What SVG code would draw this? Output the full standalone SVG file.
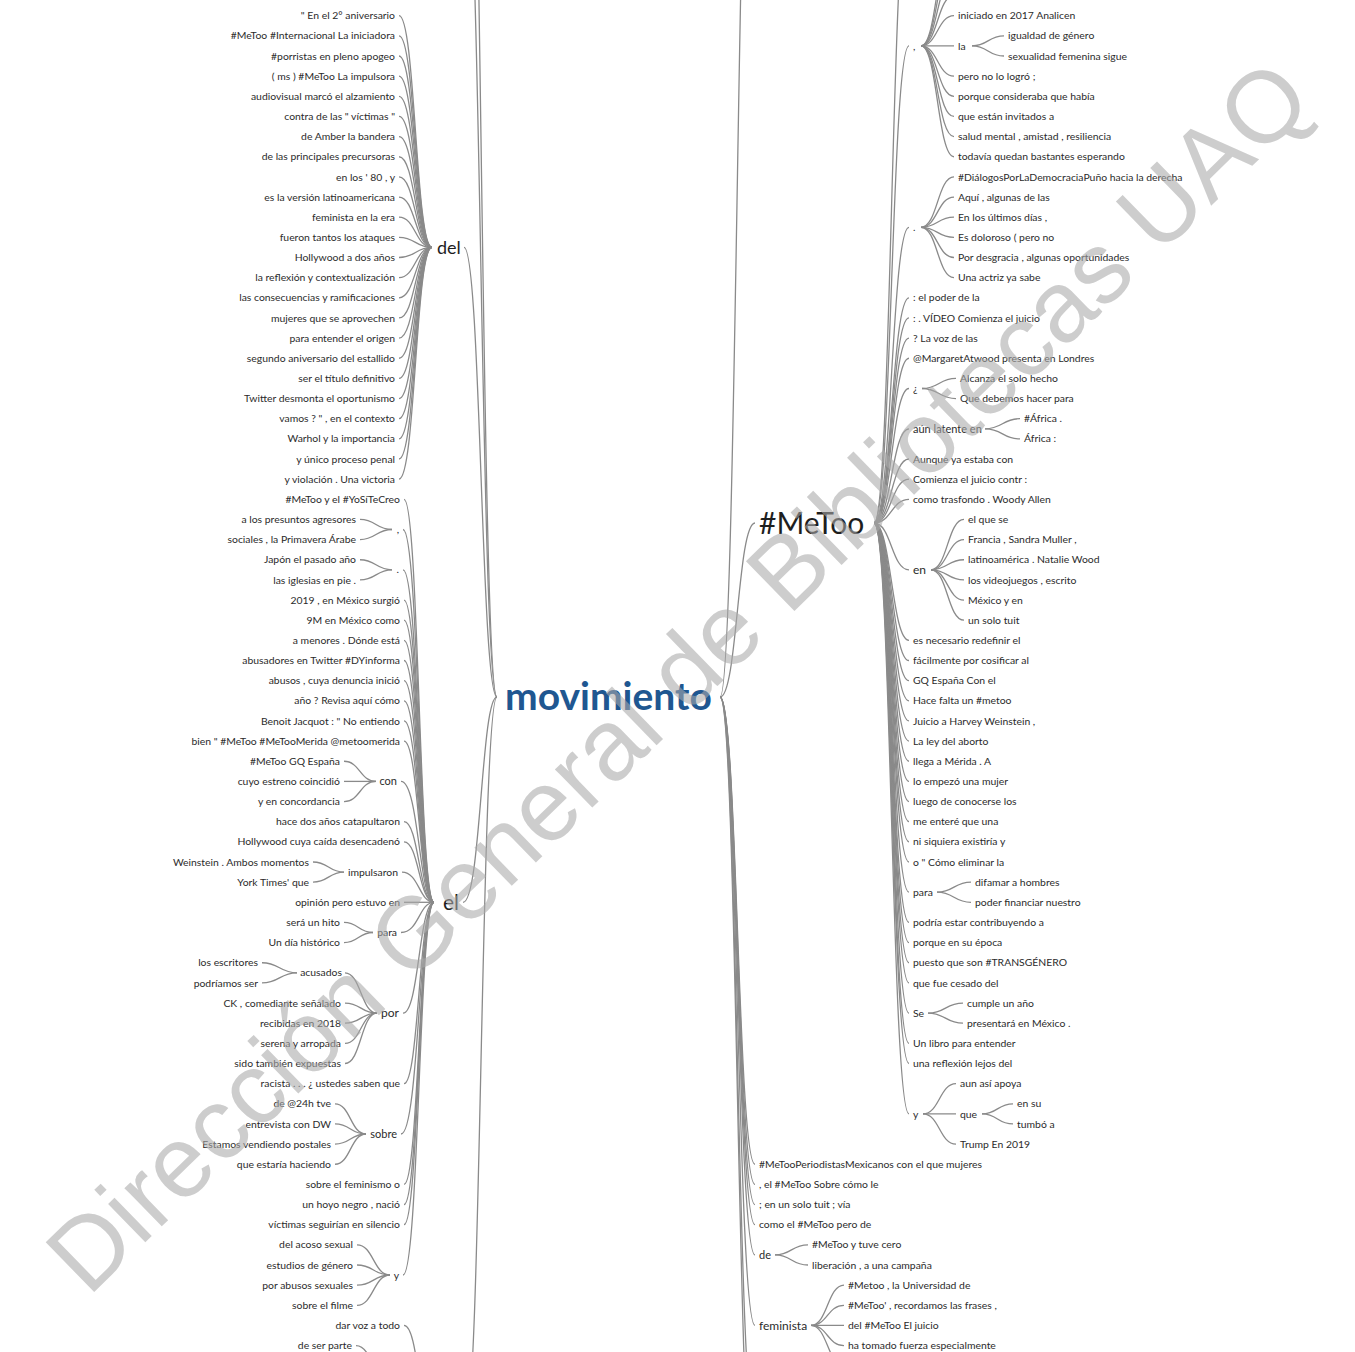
<svg xmlns="http://www.w3.org/2000/svg" width="1355" height="1352" viewBox="0 0 1355 1352">
<style>
.t{font-family:Lato,"Open Sans","Liberation Sans",sans-serif;font-size:10.4px;fill:#2b2b2b}
.e{text-anchor:end}
.n{font-family:Lato,"Open Sans","Liberation Sans",sans-serif;fill:#1e1e1e}
.c path{fill:none;stroke:#8a8a8a;stroke-width:1.3}
.wm{font-family:"Liberation Sans",Arial,sans-serif;font-size:101px;fill:#a9a9a9;fill-opacity:.58}
</style>
<rect width="1355" height="1352" fill="#fff"/>
<g id="connectors" class="c">
<path d="M497 697C481 697 481 -420 465 -420"/>
<path d="M497 697C481 697 481 -150 465 -150"/>
<path d="M497 697C481 697 481 247.4 464 247.4"/>
<path d="M497 697C481 697 481 902.3 463 902.3"/>
<path d="M497 697C481 697 481 1426 465 1426"/>
<path d="M399 15.7C415.5 15.7 415.5 247.4 432 247.4"/>
<path d="M399 35.85C415.5 35.85 415.5 247.4 432 247.4"/>
<path d="M399 56C415.5 56 415.5 247.4 432 247.4"/>
<path d="M399 76.15C415.5 76.15 415.5 247.4 432 247.4"/>
<path d="M399 96.3C415.5 96.3 415.5 247.4 432 247.4"/>
<path d="M399 116.45C415.5 116.45 415.5 247.4 432 247.4"/>
<path d="M399 136.6C415.5 136.6 415.5 247.4 432 247.4"/>
<path d="M399 156.75C415.5 156.75 415.5 247.4 432 247.4"/>
<path d="M399 176.9C415.5 176.9 415.5 247.4 432 247.4"/>
<path d="M399 197.05C415.5 197.05 415.5 247.4 432 247.4"/>
<path d="M399 217.2C415.5 217.2 415.5 247.4 432 247.4"/>
<path d="M399 237.35C415.5 237.35 415.5 247.4 432 247.4"/>
<path d="M399 257.5C415.5 257.5 415.5 247.4 432 247.4"/>
<path d="M399 277.65C415.5 277.65 415.5 247.4 432 247.4"/>
<path d="M399 297.8C415.5 297.8 415.5 247.4 432 247.4"/>
<path d="M399 317.95C415.5 317.95 415.5 247.4 432 247.4"/>
<path d="M399 338.1C415.5 338.1 415.5 247.4 432 247.4"/>
<path d="M399 358.25C415.5 358.25 415.5 247.4 432 247.4"/>
<path d="M399 378.4C415.5 378.4 415.5 247.4 432 247.4"/>
<path d="M399 398.55C415.5 398.55 415.5 247.4 432 247.4"/>
<path d="M399 418.7C415.5 418.7 415.5 247.4 432 247.4"/>
<path d="M399 438.85C415.5 438.85 415.5 247.4 432 247.4"/>
<path d="M399 459C415.5 459 415.5 247.4 432 247.4"/>
<path d="M399 479.15C415.5 479.15 415.5 247.4 432 247.4"/>
<path d="M404 499.3C419 499.3 419 902.3 434 902.3"/>
<path d="M403 529.5C419 529.5 419 902.3 434 902.3"/>
<path d="M403 569.8C419 569.8 419 902.3 434 902.3"/>
<path d="M404 600.05C419 600.05 419 902.3 434 902.3"/>
<path d="M404 620.2C419 620.2 419 902.3 434 902.3"/>
<path d="M404 640.35C419 640.35 419 902.3 434 902.3"/>
<path d="M404 660.5C419 660.5 419 902.3 434 902.3"/>
<path d="M404 680.65C419 680.65 419 902.3 434 902.3"/>
<path d="M404 700.8C419 700.8 419 902.3 434 902.3"/>
<path d="M404 720.95C419 720.95 419 902.3 434 902.3"/>
<path d="M404 741.1C419 741.1 419 902.3 434 902.3"/>
<path d="M401 781.4C419 781.4 419 902.3 434 902.3"/>
<path d="M404 821.7C419 821.7 419 902.3 434 902.3"/>
<path d="M404 841.85C419 841.85 419 902.3 434 902.3"/>
<path d="M402 872.1C419 872.1 419 902.3 434 902.3"/>
<path d="M404 902.3C419 902.3 419 902.3 434 902.3"/>
<path d="M401 932.5C419 932.5 419 902.3 434 902.3"/>
<path d="M403 1013.1C419 1013.1 419 902.3 434 902.3"/>
<path d="M404 1083.65C419 1083.65 419 902.3 434 902.3"/>
<path d="M401 1134C419 1134 419 902.3 434 902.3"/>
<path d="M404 1184.4C419 1184.4 419 902.3 434 902.3"/>
<path d="M404 1204.55C419 1204.55 419 902.3 434 902.3"/>
<path d="M404 1224.7C419 1224.7 419 902.3 434 902.3"/>
<path d="M403 1275C419 1275 419 902.3 434 902.3"/>
<path d="M360 519.45C376 519.45 376 529.5 392 529.5"/>
<path d="M360 539.6C376 539.6 376 529.5 392 529.5"/>
<path d="M360 559.75C376 559.75 376 569.8 392 569.8"/>
<path d="M360 579.9C376 579.9 376 569.8 392 569.8"/>
<path d="M344 761.25C360 761.25 360 781.4 376 781.4"/>
<path d="M344 781.4C360 781.4 360 781.4 376 781.4"/>
<path d="M344 801.55C360 801.55 360 781.4 376 781.4"/>
<path d="M313 862C328.5 862 328.5 872.1 344 872.1"/>
<path d="M313 882.15C328.5 882.15 328.5 872.1 344 872.1"/>
<path d="M344 922.45C358.5 922.45 358.5 932.5 373 932.5"/>
<path d="M344 942.6C358.5 942.6 358.5 932.5 373 932.5"/>
<path d="M345 972.8C361 972.8 361 1013.1 377 1013.1"/>
<path d="M345 1003.05C361 1003.05 361 1013.1 377 1013.1"/>
<path d="M345 1023.2C361 1023.2 361 1013.1 377 1013.1"/>
<path d="M345 1043.35C361 1043.35 361 1013.1 377 1013.1"/>
<path d="M345 1063.5C361 1063.5 361 1013.1 377 1013.1"/>
<path d="M262 962.75C279.5 962.75 279.5 972.8 297 972.8"/>
<path d="M262 982.9C279.5 982.9 279.5 972.8 297 972.8"/>
<path d="M335 1103.8C350.5 1103.8 350.5 1134 366 1134"/>
<path d="M335 1123.95C350.5 1123.95 350.5 1134 366 1134"/>
<path d="M335 1144.1C350.5 1144.1 350.5 1134 366 1134"/>
<path d="M335 1164.25C350.5 1164.25 350.5 1134 366 1134"/>
<path d="M357 1244.85C373.5 1244.85 373.5 1275 390 1275"/>
<path d="M357 1265C373.5 1265 373.5 1275 390 1275"/>
<path d="M357 1285.15C373.5 1285.15 373.5 1275 390 1275"/>
<path d="M357 1305.3C373.5 1305.3 373.5 1275 390 1275"/>
<path d="M404 1325.45C419 1325.45 419 1426 434 1426"/>
<path d="M356 1345.6C374 1345.6 374 1390 392 1390"/>
<path d="M720 697C737.5 697 737.5 -350 755 -350"/>
<path d="M720 697C737.5 697 737.5 523 755 523"/>
<path d="M720 697C737.5 697 737.5 1164.25 755 1164.25"/>
<path d="M720 697C737.5 697 737.5 1184.4 755 1184.4"/>
<path d="M720 697C737.5 697 737.5 1204.55 755 1204.55"/>
<path d="M720 697C737.5 697 737.5 1224.7 755 1224.7"/>
<path d="M720 697C737.5 697 737.5 1254.9 755 1254.9"/>
<path d="M720 697C737.5 697 737.5 1325.45 755 1325.45"/>
<path d="M720 697C737.5 697 737.5 1430 755 1430"/>
<path d="M720 697C737.5 697 737.5 1500 755 1500"/>
<path d="M874 523C891.5 523 891.5 -105 909 -105"/>
<path d="M874 523C891.5 523 891.5 45.9 909 45.9"/>
<path d="M874 523C891.5 523 891.5 227.3 909 227.3"/>
<path d="M874 523C891.5 523 891.5 297.8 909 297.8"/>
<path d="M874 523C891.5 523 891.5 317.95 909 317.95"/>
<path d="M874 523C891.5 523 891.5 338.1 909 338.1"/>
<path d="M874 523C891.5 523 891.5 358.25 909 358.25"/>
<path d="M874 523C891.5 523 891.5 388.5 909 388.5"/>
<path d="M874 523C891.5 523 891.5 428.8 909 428.8"/>
<path d="M874 523C891.5 523 891.5 459 909 459"/>
<path d="M874 523C891.5 523 891.5 479.15 909 479.15"/>
<path d="M874 523C891.5 523 891.5 499.3 909 499.3"/>
<path d="M874 523C891.5 523 891.5 569.8 909 569.8"/>
<path d="M874 523C891.5 523 891.5 640.35 909 640.35"/>
<path d="M874 523C891.5 523 891.5 660.5 909 660.5"/>
<path d="M874 523C891.5 523 891.5 680.65 909 680.65"/>
<path d="M874 523C891.5 523 891.5 700.8 909 700.8"/>
<path d="M874 523C891.5 523 891.5 720.95 909 720.95"/>
<path d="M874 523C891.5 523 891.5 741.1 909 741.1"/>
<path d="M874 523C891.5 523 891.5 761.25 909 761.25"/>
<path d="M874 523C891.5 523 891.5 781.4 909 781.4"/>
<path d="M874 523C891.5 523 891.5 801.55 909 801.55"/>
<path d="M874 523C891.5 523 891.5 821.7 909 821.7"/>
<path d="M874 523C891.5 523 891.5 841.85 909 841.85"/>
<path d="M874 523C891.5 523 891.5 862 909 862"/>
<path d="M874 523C891.5 523 891.5 892.2 909 892.2"/>
<path d="M874 523C891.5 523 891.5 922.45 909 922.45"/>
<path d="M874 523C891.5 523 891.5 942.6 909 942.6"/>
<path d="M874 523C891.5 523 891.5 962.75 909 962.75"/>
<path d="M874 523C891.5 523 891.5 982.9 909 982.9"/>
<path d="M874 523C891.5 523 891.5 1013.1 909 1013.1"/>
<path d="M874 523C891.5 523 891.5 1043.35 909 1043.35"/>
<path d="M874 523C891.5 523 891.5 1063.5 909 1063.5"/>
<path d="M874 523C891.5 523 891.5 1113.9 909 1113.9"/>
<path d="M921 45.9C937.5 45.9 937.5 -64.9 954 -64.9"/>
<path d="M921 45.9C937.5 45.9 937.5 -44.75 954 -44.75"/>
<path d="M921 45.9C937.5 45.9 937.5 -24.6 954 -24.6"/>
<path d="M921 45.9C937.5 45.9 937.5 -4.45 954 -4.45"/>
<path d="M921 45.9C937.5 45.9 937.5 15.7 954 15.7"/>
<path d="M921 45.9C937.5 45.9 937.5 45.9 954 45.9"/>
<path d="M921 45.9C937.5 45.9 937.5 76.15 954 76.15"/>
<path d="M921 45.9C937.5 45.9 937.5 96.3 954 96.3"/>
<path d="M921 45.9C937.5 45.9 937.5 116.45 954 116.45"/>
<path d="M921 45.9C937.5 45.9 937.5 136.6 954 136.6"/>
<path d="M921 45.9C937.5 45.9 937.5 156.75 954 156.75"/>
<path d="M972 45.9C988 45.9 988 35.85 1004 35.85"/>
<path d="M972 45.9C988 45.9 988 56 1004 56"/>
<path d="M921 227.3C937.5 227.3 937.5 176.9 954 176.9"/>
<path d="M921 227.3C937.5 227.3 937.5 197.05 954 197.05"/>
<path d="M921 227.3C937.5 227.3 937.5 217.2 954 217.2"/>
<path d="M921 227.3C937.5 227.3 937.5 237.35 954 237.35"/>
<path d="M921 227.3C937.5 227.3 937.5 257.5 954 257.5"/>
<path d="M921 227.3C937.5 227.3 937.5 277.65 954 277.65"/>
<path d="M922 388.5C939 388.5 939 378.4 956 378.4"/>
<path d="M922 388.5C939 388.5 939 398.55 956 398.55"/>
<path d="M985 428.8C1002.5 428.8 1002.5 418.7 1020 418.7"/>
<path d="M985 428.8C1002.5 428.8 1002.5 438.85 1020 438.85"/>
<path d="M931 569.8C947.5 569.8 947.5 519.45 964 519.45"/>
<path d="M931 569.8C947.5 569.8 947.5 539.6 964 539.6"/>
<path d="M931 569.8C947.5 569.8 947.5 559.75 964 559.75"/>
<path d="M931 569.8C947.5 569.8 947.5 579.9 964 579.9"/>
<path d="M931 569.8C947.5 569.8 947.5 600.05 964 600.05"/>
<path d="M931 569.8C947.5 569.8 947.5 620.2 964 620.2"/>
<path d="M937 892.2C954 892.2 954 882.15 971 882.15"/>
<path d="M937 892.2C954 892.2 954 902.3 971 902.3"/>
<path d="M928 1013.1C945.5 1013.1 945.5 1003.05 963 1003.05"/>
<path d="M928 1013.1C945.5 1013.1 945.5 1023.2 963 1023.2"/>
<path d="M923 1113.9C939.5 1113.9 939.5 1083.65 956 1083.65"/>
<path d="M923 1113.9C939.5 1113.9 939.5 1113.9 956 1113.9"/>
<path d="M923 1113.9C939.5 1113.9 939.5 1144.1 956 1144.1"/>
<path d="M982 1113.9C997.5 1113.9 997.5 1103.8 1013 1103.8"/>
<path d="M982 1113.9C997.5 1113.9 997.5 1123.95 1013 1123.95"/>
<path d="M775 1254.9C791.5 1254.9 791.5 1244.85 808 1244.85"/>
<path d="M775 1254.9C791.5 1254.9 791.5 1265 808 1265"/>
<path d="M811 1325.45C827.5 1325.45 827.5 1285.15 844 1285.15"/>
<path d="M811 1325.45C827.5 1325.45 827.5 1305.3 844 1305.3"/>
<path d="M811 1325.45C827.5 1325.45 827.5 1325.45 844 1325.45"/>
<path d="M811 1325.45C827.5 1325.45 827.5 1345.6 844 1345.6"/>
<path d="M811 1325.45C827.5 1325.45 827.5 1365.75 844 1365.75"/>
</g>
<g id="n-movimiento"><text class="n" x="505" y="710" style="font-size:39px;font-weight:700;fill:#1f5791">movimiento</text></g>
<g id="n-del"><text class="n" x="437" y="253.7" style="font-size:18px">del</text></g>
<g id="n-el"><text class="n" x="443" y="909.6" style="font-size:21px">el</text></g>
<g id="n-metoo"><text class="n" x="759" y="533.5" style="font-size:30px">#MeToo</text></g>
<g id="del-leaves" class="t e">
<g id="d0"><text x="395" y="19.3">" En el 2° aniversario</text></g>
<g id="d1"><text x="395" y="39.45">#MeToo #Internacional La iniciadora</text></g>
<g id="d2"><text x="395" y="59.6">#porristas en pleno apogeo</text></g>
<g id="d3"><text x="395" y="79.75">( ms ) #MeToo La impulsora</text></g>
<g id="d4"><text x="395" y="99.9">audiovisual marcó el alzamiento</text></g>
<g id="d5"><text x="395" y="120.05">contra de las " víctimas "</text></g>
<g id="d6"><text x="395" y="140.2">de Amber la bandera</text></g>
<g id="d7"><text x="395" y="160.35">de las principales precursoras</text></g>
<g id="d8"><text x="395" y="180.5">en los ' 80 , y</text></g>
<g id="d9"><text x="395" y="200.65">es la versión latinoamericana</text></g>
<g id="d10"><text x="395" y="220.8">feminista en la era</text></g>
<g id="d11"><text x="395" y="240.95">fueron tantos los ataques</text></g>
<g id="d12"><text x="395" y="261.1">Hollywood a dos años</text></g>
<g id="d13"><text x="395" y="281.25">la reflexión y contextualización</text></g>
<g id="d14"><text x="395" y="301.4">las consecuencias y ramificaciones</text></g>
<g id="d15"><text x="395" y="321.55">mujeres que se aprovechen</text></g>
<g id="d16"><text x="395" y="341.7">para entender el origen</text></g>
<g id="d17"><text x="395" y="361.85">segundo aniversario del estallido</text></g>
<g id="d18"><text x="395" y="382">ser el título definitivo</text></g>
<g id="d19"><text x="395" y="402.15">Twitter desmonta el oportunismo</text></g>
<g id="d20"><text x="395" y="422.3">vamos ? " , en el contexto</text></g>
<g id="d21"><text x="395" y="442.45">Warhol y la importancia</text></g>
<g id="d22"><text x="395" y="462.6">y único proceso penal</text></g>
<g id="d23"><text x="395" y="482.75">y violación . Una victoria</text></g>
</g>
<g id="el-branch" class="t e">
<g id="e24"><text x="400" y="502.9">#MeToo y el #YoSíTeCreo</text></g>
<g id="n-comma-l"><text x="399" y="533.1">,</text></g>
<g id="e25"><text x="356" y="523.05">a los presuntos agresores</text></g>
<g id="e26"><text x="356" y="543.2">sociales , la Primavera Árabe</text></g>
<g id="n-dot-l"><text x="399" y="573.4">.</text></g>
<g id="e27"><text x="356" y="563.35">Japón el pasado año</text></g>
<g id="e28"><text x="356" y="583.5">las iglesias en pie .</text></g>
<g id="e29"><text x="400" y="603.65">2019 , en México surgió</text></g>
<g id="e30"><text x="400" y="623.8">9M en México como</text></g>
<g id="e31"><text x="400" y="643.95">a menores . Dónde está</text></g>
<g id="e32"><text x="400" y="664.1">abusadores en Twitter #DYinforma</text></g>
<g id="e33"><text x="400" y="684.25">abusos , cuya denuncia inició</text></g>
<g id="e34"><text x="400" y="704.4">año ? Revisa aquí cómo</text></g>
<g id="e35"><text x="400" y="724.55">Benoit Jacquot : " No entiendo</text></g>
<g id="e36"><text x="400" y="744.7">bien " #MeToo #MeTooMerida @metoomerida</text></g>
<g id="n-con"><text x="397" y="785.25" style="font-size:11px">con</text></g>
<g id="e37"><text x="340" y="764.85">#MeToo GQ España</text></g>
<g id="e38"><text x="340" y="785">cuyo estreno coincidió</text></g>
<g id="e39"><text x="340" y="805.15">y en concordancia</text></g>
<g id="e40"><text x="400" y="825.3">hace dos años catapultaron</text></g>
<g id="e41"><text x="400" y="845.45">Hollywood cuya caída desencadenó</text></g>
<g id="n-impulsaron"><text x="398" y="875.7">impulsaron</text></g>
<g id="e42"><text x="309" y="865.6">Weinstein . Ambos momentos</text></g>
<g id="e43"><text x="309" y="885.75">York Times' que</text></g>
<g id="e44"><text x="400" y="905.9">opinión pero estuvo en</text></g>
<g id="n-para-l"><text x="397" y="936.1">para</text></g>
<g id="e45"><text x="340" y="926.05">será un hito</text></g>
<g id="e46"><text x="340" y="946.2">Un día histórico</text></g>
<g id="n-por"><text x="399" y="1017.3" style="font-size:12px">por</text></g>
<g id="n-acusados"><text x="342" y="976.4">acusados</text></g>
<g id="e47"><text x="258" y="966.35">los escritores</text></g>
<g id="e48"><text x="258" y="986.5">podríamos ser</text></g>
<g id="e49"><text x="341" y="1006.65">CK , comediante señalado</text></g>
<g id="e50"><text x="341" y="1026.8">recibidas en 2018</text></g>
<g id="e51"><text x="341" y="1046.95">serena y arropada</text></g>
<g id="e52"><text x="341" y="1067.1">sido también expuestas</text></g>
<g id="e53"><text x="400" y="1087.25">racista . . . ¿ ustedes saben que</text></g>
<g id="n-sobre"><text x="397" y="1137.85" style="font-size:11px">sobre</text></g>
<g id="e54"><text x="331" y="1107.4">de @24h tve</text></g>
<g id="e55"><text x="331" y="1127.55">entrevista con DW</text></g>
<g id="e56"><text x="331" y="1147.7">Estamos vendiendo postales</text></g>
<g id="e57"><text x="331" y="1167.85">que estaría haciendo</text></g>
<g id="e58"><text x="400" y="1188">sobre el feminismo o</text></g>
<g id="e59"><text x="400" y="1208.15">un hoyo negro , nació</text></g>
<g id="e60"><text x="400" y="1228.3">víctimas seguirían en silencio</text></g>
<g id="n-y-l"><text x="399" y="1278.6">y</text></g>
<g id="e61"><text x="353" y="1248.45">del acoso sexual</text></g>
<g id="e62"><text x="353" y="1268.6">estudios de género</text></g>
<g id="e63"><text x="353" y="1288.75">por abusos sexuales</text></g>
<g id="e64"><text x="353" y="1308.9">sobre el filme</text></g>
<g id="e65"><text x="400" y="1329.05">dar voz a todo</text></g>
<g id="e66"><text x="352" y="1349.2">de ser parte</text></g>
</g>
<g id="metoo-branch" class="t">
<g id="n-comma-r"><text x="913" y="49.5">,</text></g>
<g id="r0"><text x="958" y="19.3">iniciado en 2017 Analicen</text></g>
<g id="n-la"><text x="958" y="49.5">la</text></g>
<g id="r1"><text x="1008" y="39.45">igualdad de género</text></g>
<g id="r2"><text x="1008" y="59.6">sexualidad femenina sigue</text></g>
<g id="r3"><text x="958" y="79.75">pero no lo logró ;</text></g>
<g id="r4"><text x="958" y="99.9">porque consideraba que había</text></g>
<g id="r5"><text x="958" y="120.05">que están invitados a</text></g>
<g id="r6"><text x="958" y="140.2">salud mental , amistad , resiliencia</text></g>
<g id="r7"><text x="958" y="160.35">todavía quedan bastantes esperando</text></g>
<g id="n-dot-r"><text x="913" y="230.9">.</text></g>
<g id="r8"><text x="958" y="180.5">#DiálogosPorLaDemocraciaPuño hacia la derecha</text></g>
<g id="r9"><text x="958" y="200.65">Aquí , algunas de las</text></g>
<g id="r10"><text x="958" y="220.8">En los últimos días ,</text></g>
<g id="r11"><text x="958" y="240.95">Es doloroso ( pero no</text></g>
<g id="r12"><text x="958" y="261.1">Por desgracia , algunas oportunidades</text></g>
<g id="r13"><text x="958" y="281.25">Una actriz ya sabe</text></g>
<g id="r14"><text x="913" y="301.4">: el poder de la</text></g>
<g id="r15"><text x="913" y="321.55">: . VÍDEO Comienza el juicio</text></g>
<g id="r16"><text x="913" y="341.7">? La voz de las</text></g>
<g id="r17"><text x="913" y="361.85">@MargaretAtwood presenta en Londres</text></g>
<g id="n-iq"><text x="913" y="392.1">¿</text></g>
<g id="r18"><text x="960" y="382">Alcanza el solo hecho</text></g>
<g id="r19"><text x="960" y="402.15">Que debemos hacer para</text></g>
<g id="n-aun"><text x="913" y="432.65" style="font-size:11px">aún latente en</text></g>
<g id="r20"><text x="1024" y="422.3">#África .</text></g>
<g id="r21"><text x="1024" y="442.45">África :</text></g>
<g id="r22"><text x="913" y="462.6">Aunque ya estaba con</text></g>
<g id="r23"><text x="913" y="482.75">Comienza el juicio contr :</text></g>
<g id="r24"><text x="913" y="502.9">como trasfondo . Woody Allen</text></g>
<g id="n-en"><text x="913" y="574" style="font-size:12px">en</text></g>
<g id="r25"><text x="968" y="523.05">el que se</text></g>
<g id="r26"><text x="968" y="543.2">Francia , Sandra Muller ,</text></g>
<g id="r27"><text x="968" y="563.35">latinoamérica . Natalie Wood</text></g>
<g id="r28"><text x="968" y="583.5">los videojuegos , escrito</text></g>
<g id="r29"><text x="968" y="603.65">México y en</text></g>
<g id="r30"><text x="968" y="623.8">un solo tuit</text></g>
<g id="r31"><text x="913" y="643.95">es necesario redefinir el</text></g>
<g id="r32"><text x="913" y="664.1">fácilmente por cosificar al</text></g>
<g id="r33"><text x="913" y="684.25">GQ España Con el</text></g>
<g id="r34"><text x="913" y="704.4">Hace falta un #metoo</text></g>
<g id="r35"><text x="913" y="724.55">Juicio a Harvey Weinstein ,</text></g>
<g id="r36"><text x="913" y="744.7">La ley del aborto</text></g>
<g id="r37"><text x="913" y="764.85">llega a Mérida . A</text></g>
<g id="r38"><text x="913" y="785">lo empezó una mujer</text></g>
<g id="r39"><text x="913" y="805.15">luego de conocerse los</text></g>
<g id="r40"><text x="913" y="825.3">me enteré que una</text></g>
<g id="r41"><text x="913" y="845.45">ni siquiera existiría y</text></g>
<g id="r42"><text x="913" y="865.6">o " Cómo eliminar la</text></g>
<g id="n-para-r"><text x="913" y="895.8">para</text></g>
<g id="r43"><text x="975" y="885.75">difamar a hombres</text></g>
<g id="r44"><text x="975" y="905.9">poder financiar nuestro</text></g>
<g id="r45"><text x="913" y="926.05">podría estar contribuyendo a</text></g>
<g id="r46"><text x="913" y="946.2">porque en su época</text></g>
<g id="r47"><text x="913" y="966.35">puesto que son #TRANSGÉNERO</text></g>
<g id="r48"><text x="913" y="986.5">que fue cesado del</text></g>
<g id="n-se"><text x="913" y="1016.7">Se</text></g>
<g id="r49"><text x="967" y="1006.65">cumple un año</text></g>
<g id="r50"><text x="967" y="1026.8">presentará en México .</text></g>
<g id="r51"><text x="913" y="1046.95">Un libro para entender</text></g>
<g id="r52"><text x="913" y="1067.1">una reflexión lejos del</text></g>
<g id="n-y-r"><text x="913" y="1117.5">y</text></g>
<g id="r53"><text x="960" y="1087.25">aun así apoya</text></g>
<g id="n-que"><text x="960" y="1117.5">que</text></g>
<g id="r54"><text x="1017" y="1107.4">en su</text></g>
<g id="r55"><text x="1017" y="1127.55">tumbó a</text></g>
<g id="r56"><text x="960" y="1147.7">Trump En 2019</text></g>
</g>
<g id="mov-right" class="t">
<g id="m57"><text x="759" y="1167.85">#MeTooPeriodistasMexicanos con el que mujeres</text></g>
<g id="m58"><text x="759" y="1188">, el #MeToo Sobre cómo le</text></g>
<g id="m59"><text x="759" y="1208.15">; en un solo tuit ; vía</text></g>
<g id="m60"><text x="759" y="1228.3">como el #MeToo pero de</text></g>
<g id="n-de"><text x="759" y="1258.75" style="font-size:11px">de</text></g>
<g id="m61"><text x="812" y="1248.45">#MeToo y tuve cero</text></g>
<g id="m62"><text x="812" y="1268.6">liberación , a una campaña</text></g>
<g id="n-feminista"><text x="759" y="1329.65" style="font-size:12px">feminista</text></g>
<g id="m63"><text x="848" y="1288.75">#Metoo , la Universidad de</text></g>
<g id="m64"><text x="848" y="1308.9">#MeToo' , recordamos las frases ,</text></g>
<g id="m65"><text x="848" y="1329.05">del #MeToo El juicio</text></g>
<g id="m66"><text x="848" y="1349.2">ha tomado fuerza especialmente</text></g>
</g>
<g id="watermark"><text class="wm" transform="translate(702 701) rotate(-44.2)" text-anchor="middle">Dirección General de Bibliotecas UAQ</text></g>
</svg>
